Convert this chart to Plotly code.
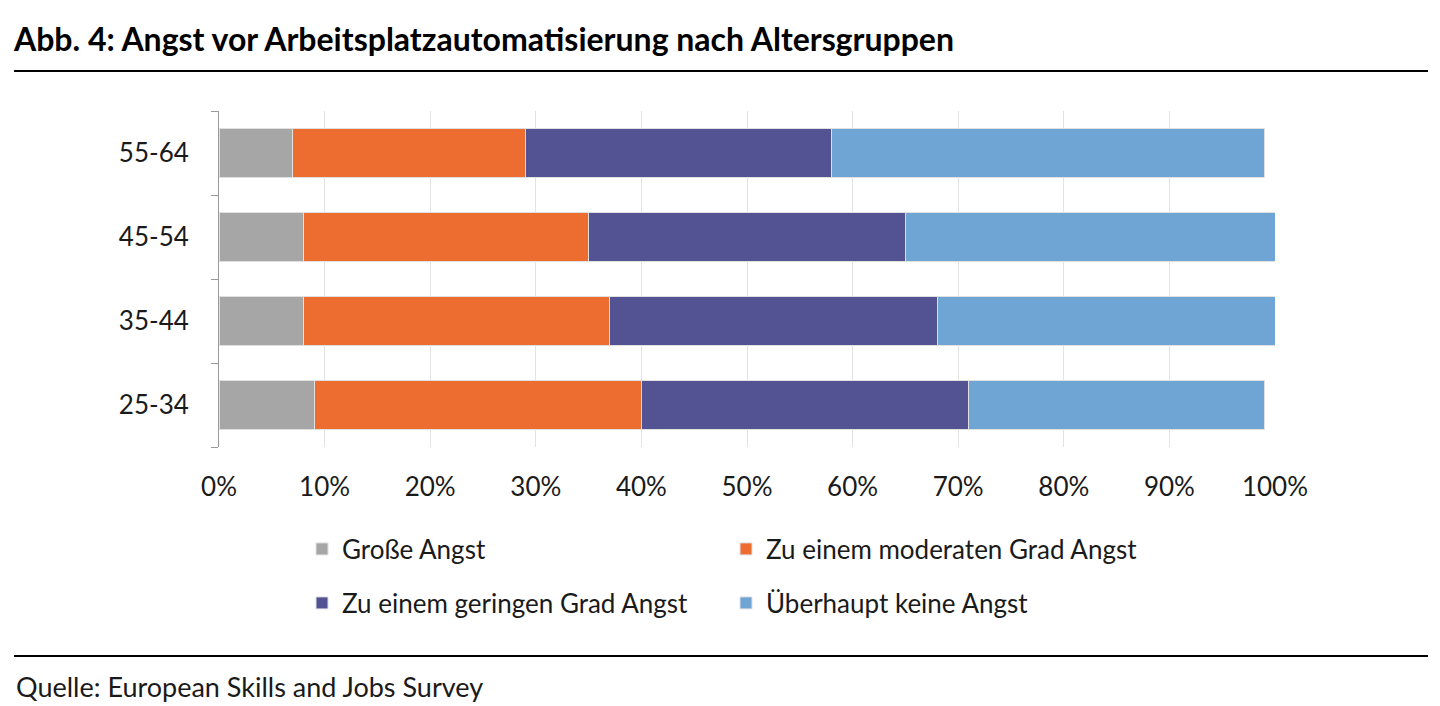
import plotly.graph_objects as go

categories = ["25-34", "35-44", "45-54", "55-64"]
series_names = ["Große Angst", "Zu einem moderaten Grad Angst",
                "Zu einem geringen Grad Angst", "Überhaupt keine Angst"]
grosse = [9, 8, 8, 7]
moderat = [31, 29, 27, 22]
gering = [31, 31, 30, 29]
keine = [28, 32, 35, 41]
colors = ["#A6A6A6", "#ED6C2F", "#535394", "#6FA5D5"]
tick_vals = [0, 10, 20, 30, 40, 50, 60, 70, 80, 90, 100]
tick_text = [f"{v}%" for v in tick_vals]

OFF = 8  # page body margin
W, H = 1440 - OFF, 706 - OFF
L, R, T, B = 219 - OFF, 1275 - OFF, 111 - OFF, 447 - OFF
FONT = "Lato, sans-serif"

def px_x(x):
    return (x - OFF - L) / (R - L)

def px_y(y):
    return (B - (y - OFF)) / (B - T)

fig = go.Figure()
series = [grosse, moderat, gering, keine]
for i, (name, vals) in enumerate(zip(series_names, series)):
    fig.add_trace(go.Bar(
        y=categories, x=vals, name=name, orientation="h",
        marker=dict(color=colors[i], line=dict(color="#E0E0E0", width=1)),
        width=0.58,
        legend="legend" if i < 2 else "legend2",
        hoverinfo="skip",
    ))

fig.update_layout(
    width=W, height=H,
    margin=dict(l=L, r=W - R, t=T, b=H - B),
    barmode="stack",
    paper_bgcolor="white", plot_bgcolor="white",
    font=dict(family=FONT, size=26, color="#1a1a1a"),
    title=dict(text="<b>Abb. 4: Angst vor Arbeitsplatzautomatisierung nach Altersgruppen</b>",
               xref="container", yref="container", x=(14 - OFF) / W, y=1 - (40 - OFF) / H,
               xanchor="left", yanchor="middle",
               font=dict(family=FONT, size=32, color="#000000")),
    xaxis=dict(range=[0, 100], tickvals=tick_vals, ticktext=tick_text,
               showgrid=True, gridcolor="#E3E3E3", gridwidth=1,
               zeroline=False, showline=False, ticks="",
               ticklabelstandoff=22, tickfont=dict(size=26)),
    yaxis=dict(categoryorder="array", categoryarray=categories,
               showline=True, linecolor="#9a9a9a", linewidth=1,
               ticks="outside", tickson="boundaries", ticklen=7, tickcolor="#9a9a9a",
               showgrid=False, ticklabelstandoff=24, tickfont=dict(size=26)),
    legend=dict(orientation="h", x=px_x(302), y=px_y(549), xanchor="left", yanchor="middle",
                entrywidth=379, entrywidthmode="pixels", font=dict(size=26),
                itemwidth=30, traceorder="normal"),
    legend2=dict(orientation="h", x=px_x(302), y=px_y(603), xanchor="left", yanchor="middle",
                 entrywidth=379, entrywidthmode="pixels", font=dict(size=26),
                 itemwidth=30, traceorder="normal"),
    shapes=[
        dict(type="line", xref="paper", yref="paper", x0=px_x(14), x1=px_x(1428),
             y0=px_y(71), y1=px_y(71), line=dict(color="#000000", width=2)),
        dict(type="line", xref="paper", yref="paper", x0=px_x(14), x1=px_x(1428),
             y0=px_y(656), y1=px_y(656), line=dict(color="#000000", width=2)),
    ],
    annotations=[
        dict(text="Quelle: European Skills and Jobs Survey", xref="paper", yref="paper",
             x=px_x(14), y=px_y(686), xanchor="left", yanchor="middle", showarrow=False,
             font=dict(family=FONT, size=27, color="#1a1a1a")),
    ],
)

fig.write_html("out.html")
